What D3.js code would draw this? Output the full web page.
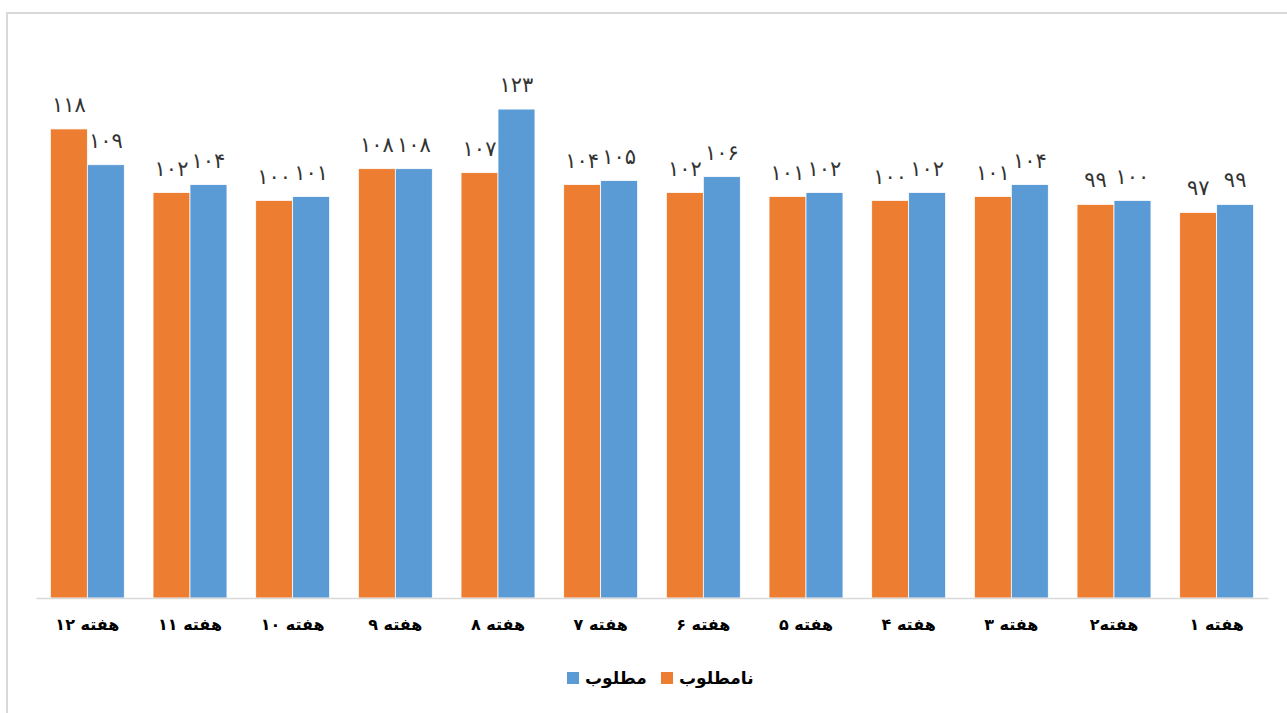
<!DOCTYPE html>
<html>
<head>
<meta charset="utf-8">
<script src="https://cdn.jsdelivr.net/npm/d3@7"></script>
<style>
  body { margin: 0; background: #fff; }
  text { font-family: "DejaVu Sans", sans-serif; }
</style>
</head>
<body>
<svg width="1287" height="713"></svg>
<script>
// weeks, drawn right to left (week 1 at the right)
const weeks = ["هفته ۱۲", "هفته ۱۱", "هفته ۱۰", "هفته ۹", "هفته ۸", "هفته ۷", "هفته ۶", "هفته ۵", "هفته ۴", "هفته ۳", "هفته۲", "هفته ۱"];
const seriesNames = ["نامطلوب", "مطلوب"];
const unwanted = [118, 102, 100, 108, 107, 104, 102, 101, 100, 101, 99, 97]; // نامطلوب
const wanted   = [109, 104, 101, 108, 123, 105, 106, 102, 102, 104, 100, 99]; // مطلوب
const colors = ["#ED7D31", "#5B9BD5"];

const faDigits = n => String(n).replace(/\d/g, d => "۰۱۲۳۴۵۶۷۸۹"[d]);

const svg = d3.select("svg");

// chart frame (only top and left edges fall inside the window)
svg.append("rect")
    .attr("x", 7).attr("y", 13)
    .attr("width", 1300).attr("height", 720)
    .attr("fill", "none")
    .attr("stroke", "#d9d9d9")
    .attr("stroke-width", 2);

const x0 = d3.scaleBand()
    .domain(weeks)
    .range([36, 1268])
    .paddingInner(0.28)
    .paddingOuter(0.14);

const x1 = d3.scaleBand()
    .domain(seriesNames)
    .range([0, x0.bandwidth()]);

const y = d3.scaleLinear()
    .domain([0, 140])
    .range([598, 41.5]);

const rows = weeks.map((w, i) => ({ week: w, values: [unwanted[i], wanted[i]] }));

const groups = svg.append("g")
    .selectAll("g")
    .data(rows)
    .join("g")
    .attr("transform", d => `translate(${x0(d.week)},0)`);

groups.selectAll("rect")
    .data(d => d.values.map((v, j) => ({ key: seriesNames[j], value: v, j: j })))
    .join("rect")
    .attr("x", d => x1(d.key))
    .attr("y", d => y(d.value))
    .attr("width", x1.bandwidth())
    .attr("height", d => y(0) - y(d.value))
    .attr("fill", d => colors[d.j])
    .attr("stroke", "#fff")
    .attr("stroke-width", 0.75);

// data labels
groups.selectAll("text")
    .data(d => d.values.map((v, j) => ({ key: seriesNames[j], value: v })))
    .join("text")
    .attr("x", d => x1(d.key) + x1.bandwidth() / 2)
    .attr("y", d => y(d.value) - 17)
    .attr("text-anchor", "middle")
    .attr("font-size", 21)
    .attr("fill", "#333")
    .text(d => faDigits(d.value));

// x axis
const xAxis = svg.append("g")
    .attr("transform", `translate(0,${y(0)})`)
    .call(d3.axisBottom(x0).tickSize(0).tickPadding(21));
xAxis.select(".domain").attr("stroke", "#d9d9d9").attr("stroke-width", 1.5);
xAxis.selectAll("text")
    .attr("font-size", 16)
    .attr("font-weight", "bold")
    .attr("fill", "#000")
    .attr("direction", "rtl")
    .attr("font-family", "DejaVu Sans, sans-serif");

// legend
const legendItems = [
    { name: seriesNames[1], color: colors[1], x: 567 },
    { name: seriesNames[0], color: colors[0], x: 661 }
];
const legend = svg.append("g")
    .selectAll("g")
    .data(legendItems)
    .join("g")
    .attr("transform", d => `translate(${d.x},672)`);
legend.append("rect")
    .attr("width", 12).attr("height", 12)
    .attr("fill", d => d.color);
legend.append("text")
    .attr("x", 18).attr("y", 6)
    .attr("dy", "0.35em")
    .attr("font-size", 17)
    .attr("font-weight", "bold")
    .attr("fill", "#000")
    .attr("direction", "ltr")
    .text(d => d.name);
</script>
</body>
</html>
